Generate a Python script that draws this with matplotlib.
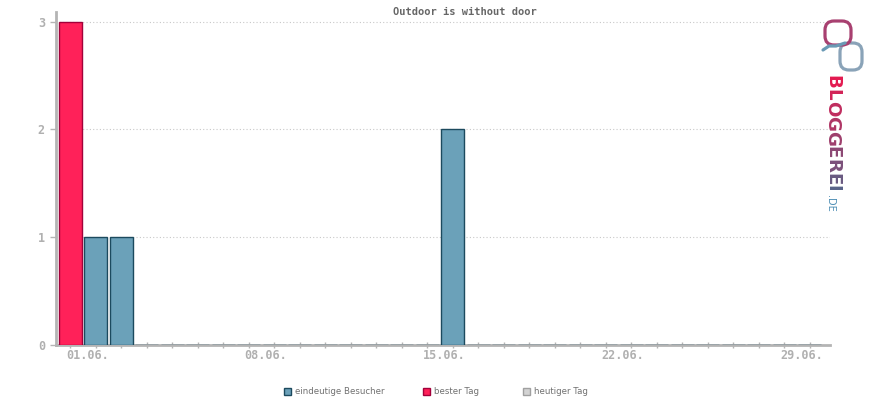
import matplotlib
matplotlib.use("Agg")
import matplotlib.pyplot as plt
import matplotlib.transforms as mtrans
from matplotlib.patches import Rectangle, FancyBboxPatch
import numpy as np

# data
days = list(range(1, 31))
visitors = [3, 1, 1, 0, 0, 0, 0, 0, 0, 0, 0, 0, 0, 0, 0,
            2, 0, 0, 0, 0, 0, 0, 0, 0, 0, 0, 0, 0, 0, 0]
best_day = 1
tick_days = [1, 8, 15, 22, 29]
tick_labels = ["01.06.", "08.06.", "15.06.", "22.06.", "29.06."]
legend_labels = ["eindeutige Besucher", "bester Tag", "heutiger Tag"]
title = "Outdoor is without door"

blue, blue_edge = "#6ba1b9", "#1c4a5e"
red, red_edge = "#ff2159", "#a3003a"
grey, grey_edge = "#d3d3d3", "#a0a0a0"
axis_col = "#b4b4b4"
label_col = "#b0b0b0"

fig = plt.figure(figsize=(8.7, 4.0), dpi=100)
ax = fig.add_axes([56 / 870, 55 / 400, 774 / 870, 333 / 400])

cols = [red if d == best_day else blue for d in days]
edges = [red_edge if d == best_day else blue_edge for d in days]
ax.bar(days, visitors, width=0.9, color=cols, edgecolor=edges, linewidth=1, zorder=3)

ax.set_xlim(0.45, 30.8)
ax.set_ylim(0, 3.09)
ax.set_yticks([0, 1, 2, 3])
ax.set_yticklabels(["0", "1", "2", "3"])
for y in [1, 2, 3]:
    ax.axhline(y, color="#c8c8c8", linestyle=(0, (1, 2)), linewidth=0.8, zorder=1)

ax.set_xticks(days)
ax.set_xticklabels([])
# date labels start a few pixels left of their tick
trans = mtrans.blended_transform_factory(ax.transData, ax.transAxes) + \
    mtrans.ScaledTranslation(-4 / 100, -4 / 100, fig.dpi_scale_trans)
for d, lab in zip(tick_days, tick_labels):
    ax.text(d, 0, lab, transform=trans, ha="left", va="top", family="DejaVu Sans Mono",
            fontweight="bold", fontsize=8.5, color=label_col)

for s in ["top", "right"]:
    ax.spines[s].set_visible(False)
for s in ["left", "bottom"]:
    ax.spines[s].set_color(axis_col)
    ax.spines[s].set_linewidth(2)
ax.tick_params(axis="x", direction="inout", length=5, width=1, color=axis_col)
ax.tick_params(axis="y", direction="out", length=4, width=1, color=axis_col, pad=4)
for lbl in ax.get_yticklabels():
    lbl.set_fontfamily("DejaVu Sans Mono")
    lbl.set_fontweight("bold")
    lbl.set_fontsize(8.5)
    lbl.set_color(label_col)

fig.text(465 / 870, 1 - 12 / 400, title, ha="center", va="center",
         family="DejaVu Sans Mono", fontweight="bold", fontsize=7.5, color="#666666")

# legend drawn by hand to match the spacing of the original
leg_x = [284, 423, 523]
leg_face = [blue, red, grey]
leg_edge = [blue_edge, red_edge, grey_edge]
for x, lab, fc, ec in zip(leg_x, legend_labels, leg_face, leg_edge):
    fig.add_artist(Rectangle((x / 870, 1 - 395 / 400), 7 / 870, 7 / 400, facecolor=fc,
                             edgecolor=ec, linewidth=1, transform=fig.transFigure))
    fig.text((x + 11) / 870, 1 - 391.5 / 400, lab, ha="left", va="center",
             fontsize=6.2, color="#707070")

# logo text, letter by letter with a colour gradient
logo_letters = "BLOGGEREI"
c0 = np.array([0xe3, 0x1a, 0x50]) / 255
c1 = np.array([0x58, 0x62, 0x88]) / 255
renderer = fig.canvas.get_renderer()
fs = 14
widths = []
for ch in logo_letters:
    t = fig.text(0, 0, ch, fontsize=fs, fontweight="bold", family="Liberation Sans Narrow")
    widths.append(t.get_window_extent(renderer).width)
    t.remove()
scale = 117 / sum(widths)
fs = fs * scale
pos = 75.0
for i, ch in enumerate(logo_letters):
    w = widths[i] * scale
    tt = i / (len(logo_letters) - 1)
    c = tuple(c0 * (1 - tt) + c1 * tt)
    fig.text(832 / 870, 1 - (pos + w / 2) / 400, ch, rotation=-90, ha="center", va="center",
             fontsize=fs, fontweight="bold", family="Liberation Sans Narrow", color=c)
    pos += w
fig.text(830 / 870, 1 - 203 / 400, ".DE", rotation=-90, ha="center", va="center",
         fontsize=7, family="DejaVu Sans", color="#4f8fb5")

logo_ax = fig.add_axes([815 / 870, 1 - 80 / 400, 55 / 870, 65 / 400])
logo_ax.set_xlim(815, 870)
logo_ax.set_ylim(80, 15)
logo_ax.axis("off")
logo_ax.add_patch(FancyBboxPatch((840, 43), 22, 27, boxstyle="round,pad=0,rounding_size=9",
                                 fill=False, edgecolor="#8aa3b8", linewidth=2.3))
logo_ax.add_patch(FancyBboxPatch((825, 21), 26, 24, boxstyle="round,pad=0,rounding_size=9",
                                 fill=False, edgecolor="#a84070", linewidth=2.3))
logo_ax.plot([823, 829, 836, 845], [50, 46, 46, 43], color="#6a9ab5", linewidth=2.3,
             solid_capstyle="round")

fig.savefig("out.png", dpi=100)
